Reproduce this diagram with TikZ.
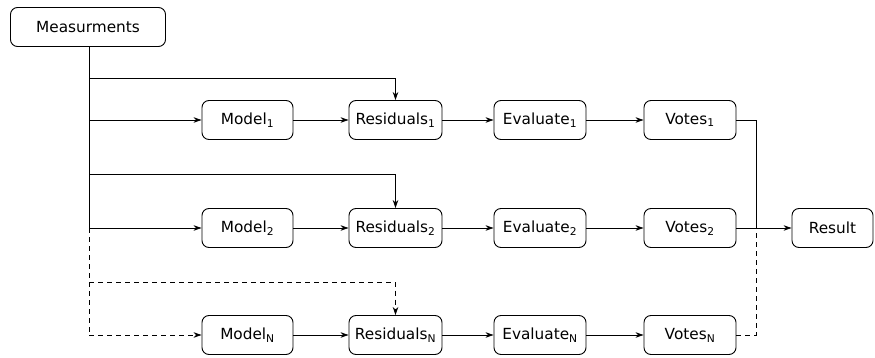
\documentclass[tikz,border=0pt]{standalone}
\usepackage{fontspec}
\setmainfont{DejaVu Sans}
\usetikzlibrary{arrows.meta}
\begin{document}
\begin{tikzpicture}[x=1pt,y=-1pt,
  box/.style={draw,rounded corners=7pt,line width=0.9pt,minimum height=39pt,inner sep=2pt,font=\fontsize{15.3}{18}\selectfont},
  conn/.style={line width=0.8pt},
  arr/.style={conn,-{Stealth[length=8pt,width=5.5pt]}},
  dsh/.style={dash pattern=on 5pt off 4pt}]
\useasboundingbox (0,0) rectangle (875,358);
\node[box,minimum width=155pt] (meas) at (88,27) {Measurments};
\foreach \r/\y/\s in {1/120/1,2/228/2,N/335/N}{
  \node[box,minimum width=91pt] (m\r) at (247.5,\y) {Model\textsubscript{\s}};
  \node[box,minimum width=93pt] (r\r) at (395.5,\y) {Residuals\textsubscript{\s}};
  \node[box,minimum width=92pt] (e\r) at (540,\y) {Evaluate\textsubscript{\s}};
  \node[box,minimum width=92pt] (v\r) at (690,\y) {Votes\textsubscript{\s}};
}
\node[box,minimum width=81pt] (res) at (832.5,228) {Result};
% left tree
\coordinate (b1) at (89,78);
\coordinate (c1) at (89,120);
\coordinate (b2) at (89,174);
\coordinate (c2) at (89,228);
\coordinate (bN) at (89,282);
\coordinate (cN) at (89,335);
\draw[conn] (meas.south -| c1) -- (c2);
\draw[conn,dsh] (c2) -- (cN);
\draw[arr] (b1) -| (r1.north);
\draw[arr] (c1) -- (m1.west);
\draw[arr] (b2) -| (r2.north);
\draw[arr] (c2) -- (m2.west);
\draw[arr,dsh] (bN) -| (rN.north);
\draw[arr,dsh] (cN) -- (mN.west);
% rows
\foreach \r in {1,2,N}{
  \draw[arr] (m\r) -- (r\r);
  \draw[arr] (r\r) -- (e\r);
  \draw[arr] (e\r) -- (v\r);
}
% right side
\coordinate (j1) at (756,120);
\coordinate (j2) at (756,228);
\coordinate (jN) at (756,335);
\draw[conn] (v1.east) -- (j1) -- (j2);
\draw[conn,dsh] (vN.east) -- (jN) -- (j2);
\draw[arr] (v2) -- (res);
\end{tikzpicture}
\end{document}
